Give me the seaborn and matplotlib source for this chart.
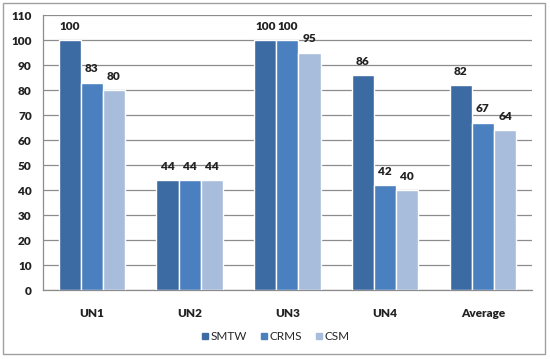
import pandas as pd
import numpy as np
import matplotlib
matplotlib.use("Agg")
import matplotlib.pyplot as plt
import seaborn as sns
from matplotlib.patches import Rectangle

# --------------------------------------------
# Data
# --------------------------------------------
categories = ["UN1", "UN2", "UN3", "UN4", "Average"]
methods = ["SMTW", "CRMS", "CSM"]
smtw = [100, 44, 100, 86, 82]
crms = [83, 44, 100, 42, 67]
csm = [80, 44, 95, 40, 64]

df = pd.DataFrame({
    "Category": categories * 3,
    "Method": ["SMTW"] * 5 + ["CRMS"] * 5 + ["CSM"] * 5,
    "Value": smtw + crms + csm,
})

palette = {"SMTW": "#3c6aa2", "CRMS": "#4a7fc0", "CSM": "#a8bcdc"}

sns.set_style("white")
plt.rcParams['font.family'] = ['Lato', 'DejaVu Sans']

fig = plt.figure(figsize=(5.5, 3.59), dpi=100)
ax = fig.add_axes([0.078, 0.192, 0.889, 0.766])

sns.barplot(data=df, x="Category", y="Value", hue="Method", order=categories,
            hue_order=methods, palette=palette, width=0.68, saturation=1,
            edgecolor="white", linewidth=1.0, ax=ax, zorder=3)

for cont in ax.containers:
    ax.bar_label(cont, fmt="%d", padding=6, fontsize=8.5, fontweight="heavy",
                 color="#222222")

# --------------------------------------------
# Axes styling
# --------------------------------------------
ax.set_ylim(0, 110)
ax.set_yticks(np.arange(0, 111, 10))
ax.set_xlim(-0.5, 4.5)
ax.yaxis.grid(True, color="#8c8c8c", linewidth=0.9, zorder=0)
ax.set_axisbelow(True)
ax.set_xlabel("")
ax.set_ylabel("")

for s in ["top", "right"]:
    ax.spines[s].set_visible(False)
for s in ["left", "bottom"]:
    ax.spines[s].set_color("#8c8c8c")
    ax.spines[s].set_linewidth(0.9)

ax.set_xticks(np.arange(-0.5, 4.6, 1.0), minor=True)
ax.tick_params(axis="x", which="major", length=0, pad=13)
ax.tick_params(axis="x", which="minor", length=4, color="#8c8c8c", direction="out")
ax.tick_params(axis="y", length=4, color="#8c8c8c", direction="out", pad=4)
for lab in ax.get_xticklabels() + ax.get_yticklabels():
    lab.set_fontweight("heavy")
    lab.set_fontsize(8.5)
    lab.set_color("#222222")

# --------------------------------------------
# Legend
# --------------------------------------------
ax.legend_.remove()
handles = [plt.Line2D([], [], marker="s", linestyle="", markersize=5,
                      color=palette[m]) for m in methods]
fig.legend(handles, methods, loc="center", bbox_to_anchor=(0.5, 0.063),
           ncol=3, frameon=False, fontsize=8.5, handletextpad=0.1,
           columnspacing=1.0, handlelength=0.8)

# Outer border
fig.patches.append(Rectangle((0.006, 0.014), 0.985, 0.978, transform=fig.transFigure,
                             fill=False, edgecolor="#a0a0a0", linewidth=1.0))

plt.savefig("out.png", dpi=100)
